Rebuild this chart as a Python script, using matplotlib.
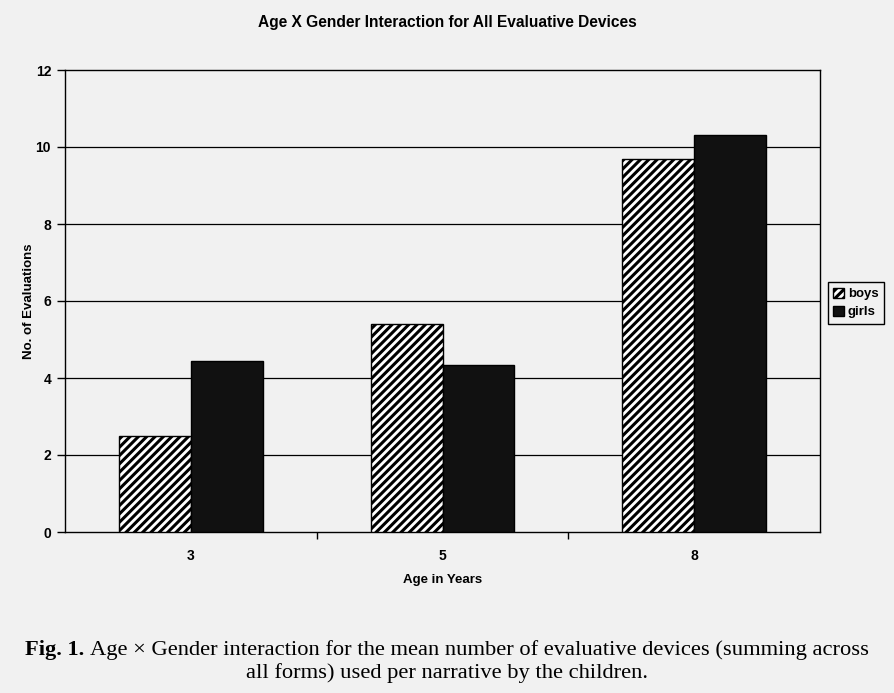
import numpy as np
import matplotlib.pyplot as plt

# data
ages = ['3', '5', '8']
boys = [2.5, 5.4, 9.7]
girls = [4.45, 4.35, 10.3]
yticks = [0, 2, 4, 6, 8, 10, 12]

bg = '#f1f1f1'
plt.rcParams['hatch.linewidth'] = 2.2
plt.rcParams['font.family'] = 'Liberation Sans'

fig = plt.figure(figsize=(8.94, 6.93), dpi=100, facecolor=bg)
ax = fig.add_axes([65/894, 1-532/693, 755/894, 462/693], facecolor=bg)

x = np.arange(len(ages))
w = 0.286
ax.bar(x - w/2, boys, width=w, facecolor='white', edgecolor='black',
       hatch='////', linewidth=1.0, label='boys', zorder=3)
ax.bar(x + w/2, girls, width=w, facecolor='#111111', edgecolor='black',
       linewidth=1.0, label='girls', zorder=3)

ax.set_xlim(-0.5, len(ages) - 0.5)
ax.set_ylim(0, 12)
ax.set_yticks(yticks)
ax.set_yticklabels([str(t) for t in yticks], fontsize=10, fontweight='bold')
ax.set_xticks(x)
ax.set_xticklabels(ages, fontsize=10, fontweight='bold')
ax.tick_params(axis='x', length=0, pad=12)
ax.tick_params(axis='y', direction='out', length=6, width=1, pad=4)
# ticks between categories, like the original
ax.set_xticks(x[:-1] + 0.5, minor=True)
ax.tick_params(axis='x', which='minor', direction='out', length=5, width=1)

for t in yticks[1:-1]:
    ax.axhline(t, color='black', linewidth=0.9, zorder=1)
for s in ax.spines.values():
    s.set_linewidth(1.0)
    s.set_color('black')

ax.set_ylabel('No. of Evaluations', fontsize=9.5, fontweight='bold')
ax.yaxis.set_label_coords(-30/755, 0.50)
ax.set_xlabel('Age in Years', fontsize=9.5, fontweight='bold', labelpad=8)

fig.text(0.5, 1-22/693, 'Age X Gender Interaction for All Evaluative Devices',
         ha='center', va='center', fontsize=11.2, fontweight='bold')

leg = fig.legend(loc='center left', bbox_to_anchor=(828/894, 1-303/693),
                 borderaxespad=0, prop={'weight': 'bold', 'size': 9.5},
                 handlelength=0.8, handleheight=0.8, handletextpad=0.3,
                 borderpad=0.4, labelspacing=0.4, fancybox=False,
                 edgecolor='black', framealpha=1, facecolor=bg)
leg.get_frame().set_linewidth(1.0)

# caption: bold "Fig. 1." followed by plain text, centred as one line
cap_bold = 'Fig. 1. '
cap1 = 'Age \u00d7 Gender interaction for the mean number of evaluative devices (summing across'
cap2 = 'all forms) used per narrative by the children.'
y1 = 1 - 650/693
tb = fig.text(0, y1, cap_bold, ha='left', va='center', fontsize=16.2,
              fontweight='bold', family='Liberation Serif')
tr = fig.text(0, y1, cap1, ha='left', va='center', fontsize=16.2,
              family='Liberation Serif')
r = fig.canvas.get_renderer()
wb = tb.get_window_extent(r).width / 894
wr = tr.get_window_extent(r).width / 894
x0 = 0.5 - (wb + wr) / 2
tb.set_x(x0)
tr.set_x(x0 + wb)
fig.text(0.5, 1-673/693, cap2, ha='center', va='center',
         fontsize=16.2, family='Liberation Serif')

fig.savefig('out.png', dpi=100, facecolor=bg)
